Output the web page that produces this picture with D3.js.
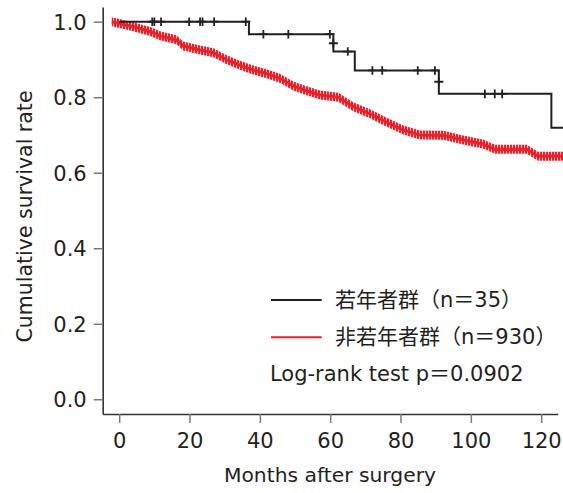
<!DOCTYPE html>
<html>
<head>
<meta charset="utf-8">
<script src="https://cdn.jsdelivr.net/npm/d3@7"></script>
<style>
  body { margin: 0; background: #fff; }
  svg { display: block; }
</style>
</head>
<body>
<div id="chart"></div>
<script>
// axis ticks
const xTicks = [0, 20, 40, 60, 80, 100, 120];
const yTicks = [0, 0.2, 0.4, 0.6, 0.8, 1.0];

// young group (n=35): step curve and censor marks
const youngStepTimes = [0, 36.9, 60.9, 67.0, 90.9, 122.9, 126.3];
const youngStepSurv  = [1.0, 0.967, 0.921, 0.871, 0.809, 0.719, 0.719];
const youngCensorTimes = [9.4, 10.0, 11.9, 19.9, 23.0, 23.7, 27.0, 36.0,
                          41.0, 48.1, 59.9, 60.9, 65.0,
                          72.0, 74.8, 84.9, 89.8, 90.9,
                          104.0, 106.8, 108.9];
const youngCensorSurv  = [1, 1, 1, 1, 1, 1, 1, 1,
                          0.967, 0.967, 0.967, 0.943, 0.921,
                          0.871, 0.871, 0.871, 0.871, 0.841,
                          0.809, 0.809, 0.809];

// non-young group (n=930): densely censored curve
const otherTimes = [-2.1, 4.0, 8.8, 11.6, 16.3, 18.2, 23.0, 26.8, 30.6, 34.3,
                    38.1, 41.9, 45.7, 49.5, 53.3, 57.1, 62.3, 66.6, 71.3, 76.1,
                    80.8, 85.5, 92.2, 97.8, 103.4, 106.9, 115.9, 119.1, 126.3];
const otherSurv  = [1.0, 0.987, 0.974, 0.963, 0.952, 0.936, 0.925, 0.918, 0.899, 0.885,
                    0.872, 0.862, 0.850, 0.830, 0.817, 0.806, 0.800, 0.775, 0.756, 0.734,
                    0.713, 0.700, 0.699, 0.687, 0.676, 0.662, 0.662, 0.644, 0.644];

const legendLabels = ["若年者群（n＝35）", "非若年者群（n＝930）"];
const testLabel = "Log-rank test p＝0.0902";
const xTitle = "Months after surgery";
const yTitle = "Cumulative survival rate";

const width = 563, height = 493;
const ink = "#231f20", red = "#e8212b";
const fontFamily = "'DejaVu Sans', 'Noto Sans CJK JP', sans-serif";

const svg = d3.select("#chart").append("svg")
    .attr("width", width)
    .attr("height", height);

// hatch pattern for the censor-mark band
const pattern = svg.append("defs").append("pattern")
    .attr("id", "hatch")
    .attr("patternUnits", "userSpaceOnUse")
    .attr("width", 3)
    .attr("height", 20);
pattern.append("rect")
    .attr("x", 0).attr("y", 0)
    .attr("width", 3).attr("height", 20)
    .attr("fill", "#f6c2c4");
pattern.append("rect")
    .attr("x", 0).attr("y", 0)
    .attr("width", 2).attr("height", 20)
    .attr("fill", red);

const x = d3.scaleLinear().domain([-4.69, 124.7]).range([102.7, 557.7]);
const y = d3.scaleLinear().domain([-0.039, 1.039]).range([414, 7]);

// axes
const xAxis = svg.append("g")
    .attr("transform", `translate(0, ${y.range()[0]})`)
    .call(d3.axisBottom(x).tickValues(xTicks).tickSize(9).tickSizeOuter(0).tickPadding(10));
const yAxis = svg.append("g")
    .attr("transform", `translate(${x.range()[0]}, 0)`)
    .call(d3.axisLeft(y).tickValues(yTicks).tickFormat(d3.format(".1f"))
        .tickSize(9).tickSizeOuter(0).tickPadding(7));

[xAxis, yAxis].forEach(g => {
    g.attr("font-family", fontFamily).attr("font-size", 21);
    g.select(".domain").attr("stroke", "#333").attr("stroke-width", 1.6);
    g.selectAll(".tick line").attr("stroke", "#7a7a7a").attr("stroke-width", 1.5);
    g.selectAll(".tick text").attr("fill", ink);
});
yAxis.selectAll(".tick text").attr("dy", "0.36em");

// non-young curve: hatched band + centre line
const otherData = otherTimes.map((t, i) => ({ t: t, s: otherSurv[i] }));
svg.append("path")
    .datum(otherData)
    .attr("fill", "url(#hatch)")
    .attr("d", d3.area()
        .x(d => x(d.t))
        .y0(d => y(d.s) + 4.5)
        .y1(d => y(d.s) - 4.5));
svg.append("path")
    .datum(otherData)
    .attr("fill", "none")
    .attr("stroke", red)
    .attr("stroke-width", 3.2)
    .attr("d", d3.line().x(d => x(d.t)).y(d => y(d.s)));

// young curve: step line + "+" censor marks
const youngData = youngStepTimes.map((t, i) => ({ t: t, s: youngStepSurv[i] }));
svg.append("path")
    .datum(youngData)
    .attr("fill", "none")
    .attr("stroke", ink)
    .attr("stroke-width", 2)
    .attr("d", d3.line().curve(d3.curveStepAfter).x(d => x(d.t)).y(d => y(d.s)));

const censors = youngCensorTimes.map((t, i) => ({ t: t, s: youngCensorSurv[i] }));
svg.append("g").selectAll("path")
    .data(censors)
    .enter()
    .append("path")
    .attr("fill", "none")
    .attr("stroke", ink)
    .attr("stroke-width", 1.8)
    .attr("d", d => {
        const cx = x(d.t), cy = y(d.s);
        return `M${cx - 4.5},${cy}H${cx + 4.5}M${cx},${cy - 4.3}V${cy + 4.3}`;
    });

// legend
const legend = svg.append("g")
    .attr("font-family", fontFamily)
    .attr("font-size", 21)
    .attr("fill", ink);
[ink, red].forEach((c, i) => {
    legend.append("line")
        .attr("x1", 271).attr("x2", 321.7)
        .attr("y1", 300 + i * 37.3).attr("y2", 300 + i * 37.3)
        .attr("stroke", c).attr("stroke-width", 2);
    legend.append("text")
        .attr("x", 335).attr("y", 307 + i * 37.3)
        .text(legendLabels[i]);
});
legend.append("text")
    .attr("x", 270).attr("y", 381)
    .text(testLabel);

// axis titles
svg.append("text")
    .attr("x", 330).attr("y", 482.3)
    .attr("text-anchor", "middle")
    .attr("font-family", fontFamily)
    .attr("font-size", 20.3)
    .attr("fill", ink)
    .text(xTitle);
svg.append("text")
    .attr("transform", "translate(32, 216.5) rotate(-90)")
    .attr("text-anchor", "middle")
    .attr("font-family", fontFamily)
    .attr("font-size", 20.5)
    .attr("fill", ink)
    .text(yTitle);
</script>
</body>
</html>
